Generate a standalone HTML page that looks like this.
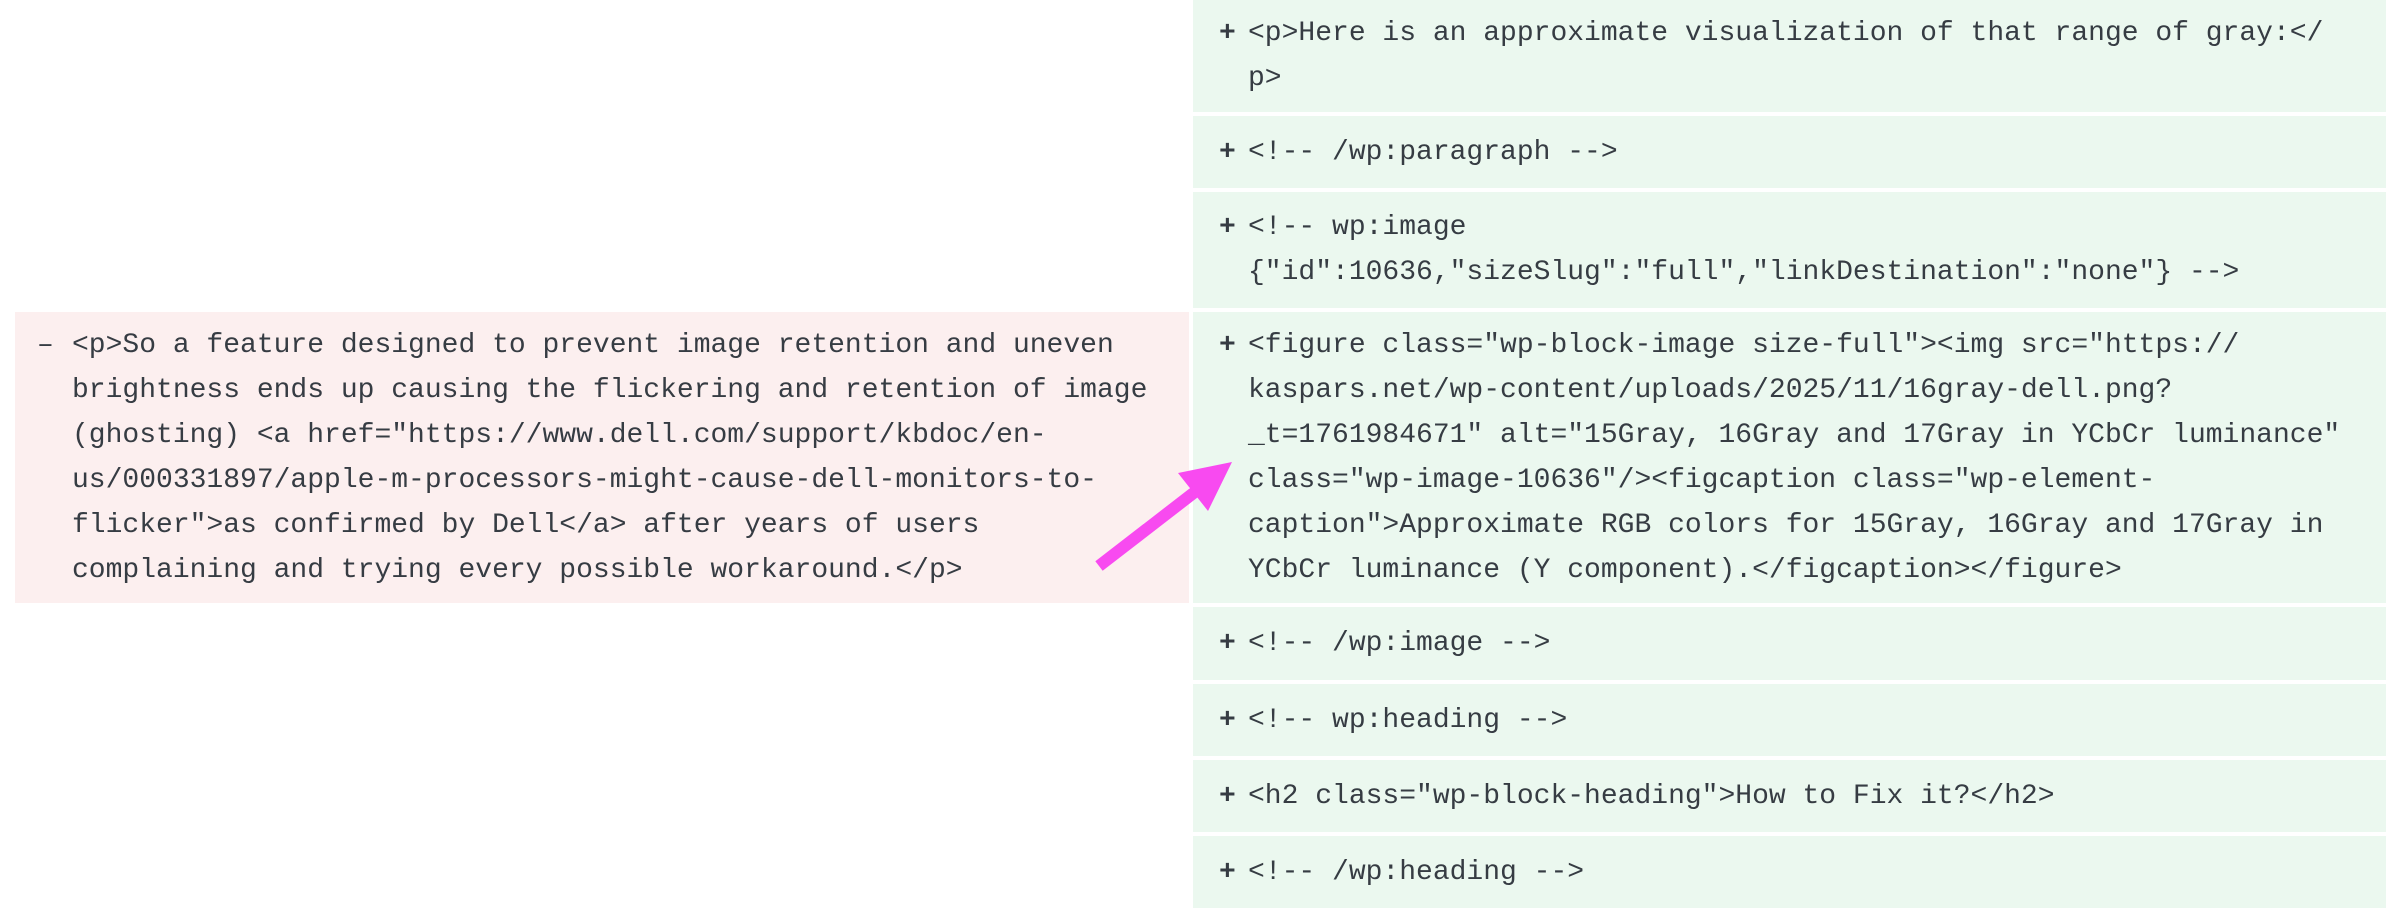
<!DOCTYPE html>
<html><head><meta charset="utf-8"><style>
html,body{margin:0;padding:0;background:#fff;width:2386px;height:908px;overflow:hidden;position:relative}
.r{position:absolute;display:flex;align-items:center;box-sizing:border-box;font-family:"Liberation Mono","DejaVu Sans Mono",monospace;font-size:28px;line-height:45px;color:#363c43;white-space:pre}
.g{background:#ebf8ef;left:1193px;width:1193px}
.p{background:#fcefef;left:15px;width:1174px}
.w{position:relative;width:100%}
.s{position:absolute;top:0}
.g .s{left:26px;font-weight:bold}
.g .t{padding-left:55px}
.p .s{left:22px}
.p .t{padding-left:57px}
</style></head><body>
<div class="r g" style="top:0;height:112px"><div class="w"><div class="s">+</div><div class="t">&lt;p&gt;Here is an approximate visualization of that range of gray:&lt;/
p&gt;</div></div></div>
<div class="r g" style="top:116px;height:72px"><div class="w"><div class="s">+</div><div class="t">&lt;!-- /wp:paragraph --&gt;</div></div></div>
<div class="r g" style="top:192px;height:116px"><div class="w"><div class="s">+</div><div class="t">&lt;!-- wp:image
{"id":10636,"sizeSlug":"full","linkDestination":"none"} --&gt;</div></div></div>
<div class="r p" style="top:312px;height:291px"><div class="w"><div class="s">–</div><div class="t">&lt;p&gt;So a feature designed to prevent image retention and uneven
brightness ends up causing the flickering and retention of image
(ghosting) &lt;a href="https://www.dell.com/support/kbdoc/en-
us/000331897/apple-m-processors-might-cause-dell-monitors-to-
flicker"&gt;as confirmed by Dell&lt;/a&gt; after years of users
complaining and trying every possible workaround.&lt;/p&gt;</div></div></div>
<div class="r g" style="top:312px;height:291px"><div class="w"><div class="s">+</div><div class="t">&lt;figure class="wp-block-image size-full"&gt;&lt;img src="https://
kaspars.net/wp-content/uploads/2025/11/16gray-dell.png?
_t=1761984671" alt="15Gray, 16Gray and 17Gray in YCbCr luminance"
class="wp-image-10636"/&gt;&lt;figcaption class="wp-element-
caption"&gt;Approximate RGB colors for 15Gray, 16Gray and 17Gray in
YCbCr luminance (Y component).&lt;/figcaption&gt;&lt;/figure&gt;</div></div></div>
<div class="r g" style="top:607px;height:73px"><div class="w"><div class="s">+</div><div class="t">&lt;!-- /wp:image --&gt;</div></div></div>
<div class="r g" style="top:684px;height:72px"><div class="w"><div class="s">+</div><div class="t">&lt;!-- wp:heading --&gt;</div></div></div>
<div class="r g" style="top:760px;height:72px"><div class="w"><div class="s">+</div><div class="t">&lt;h2 class="wp-block-heading"&gt;How to Fix it?&lt;/h2&gt;</div></div></div>
<div class="r g" style="top:836px;height:72px"><div class="w"><div class="s">+</div><div class="t">&lt;!-- /wp:heading --&gt;</div></div></div>
<svg width="2386" height="908" style="position:absolute;left:0;top:0">
<line x1="1099" y1="566" x2="1200" y2="488" stroke="#f84af0" stroke-width="12"/>
<polygon points="1232,462 1178,473 1208,511" fill="#f84af0"/>
</svg>
</body></html>
